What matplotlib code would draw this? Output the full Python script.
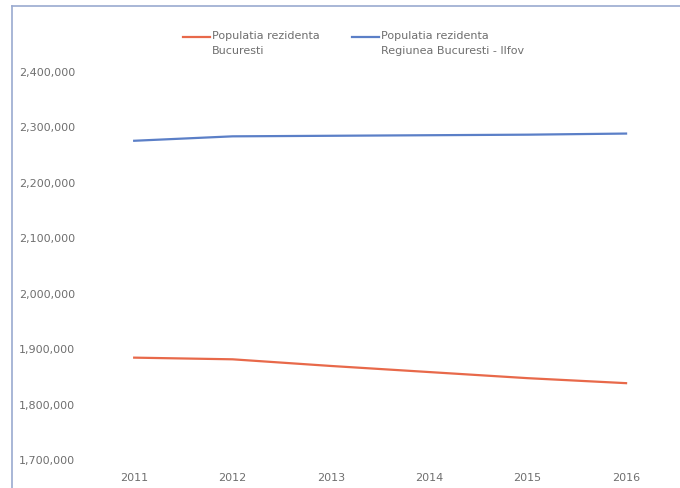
import matplotlib.pyplot as plt
from matplotlib.lines import Line2D
from matplotlib.ticker import FuncFormatter

# data
years = ['2011', '2012', '2013', '2014', '2015', '2016']
pop_bucuresti = [1883000, 1880000, 1868000, 1857000, 1846000, 1837000]
pop_regiune = [2274000, 2282000, 2283000, 2284000, 2285000, 2287000]
label_bucuresti = 'Populatia rezidenta\nBucuresti'
label_regiune = 'Populatia rezidenta\nRegiunea Bucuresti - Ilfov'

red = '#e8694a'
blue = '#5b7fc7'
text_grey = '#6f6f6f'

fig = plt.figure(figsize=(6.8, 4.89), dpi=100)
ax = fig.add_axes([0.125, 0.059, 0.868, 0.794])

x = range(len(years))
ax.plot(x, pop_bucuresti, color=red, linewidth=1.6)
ax.plot(x, pop_regiune, color=blue, linewidth=1.6)

ax.set_xlim(-0.5, len(years) - 0.5)
ax.set_ylim(1700000, 2400000)
ax.set_yticks(range(1700000, 2400001, 100000))
ax.yaxis.set_major_formatter(FuncFormatter(lambda v, p: f'{int(v):,}'))
ax.set_xticks(list(x))
ax.set_xticklabels(years)
ax.tick_params(axis='both', length=0, labelsize=8, labelcolor=text_grey)
ax.tick_params(axis='y', pad=7)
ax.tick_params(axis='x', pad=9)
for s in ax.spines.values():
    s.set_visible(False)

# legend drawn by hand so the sample line sits on the first text line
for x0, col, lab in [(183, red, label_bucuresti), (352, blue, label_regiune)]:
    fig.add_artist(Line2D([x0 / 680, (x0 + 27) / 680], [1 - 38 / 489] * 2,
                          color=col, linewidth=1.6))
    fig.text((x0 + 29) / 680, 1 - 31 / 489, lab, fontsize=8, color=text_grey,
             va='top', ha='left', linespacing=1.6)

# chart border (only left and top edges fall inside the picture)
border = '#9aaad0'
fig.add_artist(Line2D([12 / 680, 12 / 680], [0, 1 - 7 / 489], color=border, linewidth=1.2))
fig.add_artist(Line2D([12 / 680, 1], [1 - 7 / 489] * 2, color=border, linewidth=1.2))

fig.savefig('out.png', dpi=100)
